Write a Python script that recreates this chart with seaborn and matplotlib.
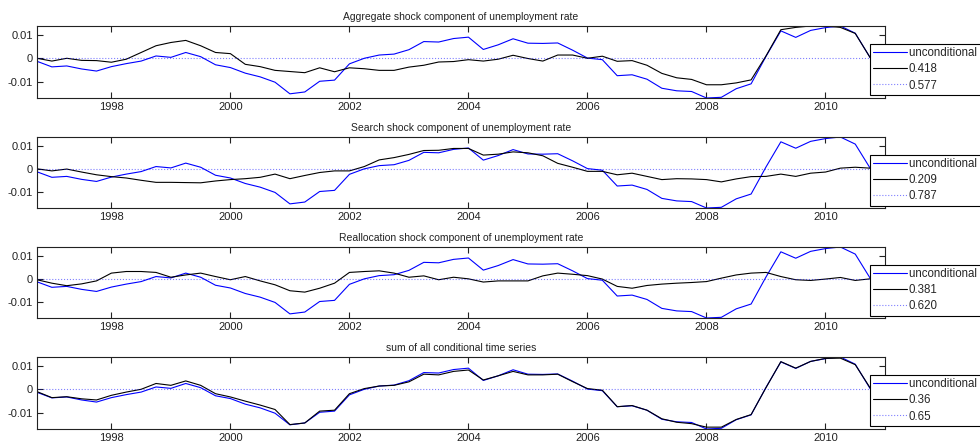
import numpy as np
import pandas as pd
import matplotlib
matplotlib.use("Agg")
import matplotlib.pyplot as plt
import seaborn as sns

# quarterly time axis, 1996Q4 .. 2010Q4
quarters = np.arange(1996.75, 2010.76, 0.25)

unconditional = [
    -0.0013, -0.0037, -0.0033, -0.0046, -0.0055, -0.0036, -0.0023, -0.0012,
    0.0010, 0.0004, 0.0025, 0.0007, -0.0028, -0.0040, -0.0064, -0.0080,
    -0.0103, -0.0153, -0.0145, -0.0099, -0.0094, -0.0024, 0.0000, 0.0014,
    0.0018, 0.0037, 0.0072, 0.0070, 0.0085, 0.0091, 0.0038, 0.0058,
    0.0084, 0.0065, 0.0064, 0.0066, 0.0035, 0.0001, -0.0006, -0.0075,
    -0.0071, -0.0090, -0.0129, -0.0140, -0.0143, -0.0171, -0.0168, -0.0131,
    -0.0110, 0.0008, 0.0118, 0.0090, 0.0120, 0.0132, 0.0139, 0.0108,
    0.0003,
]

aggregate = [
    0.0000, -0.0012, 0.0000, -0.0009, -0.0010, -0.0017, -0.0004, 0.0025,
    0.0054, 0.0068, 0.0077, 0.0054, 0.0025, 0.0020, -0.0026, -0.0036,
    -0.0052, -0.0057, -0.0062, -0.0041, -0.0058, -0.0041, -0.0045, -0.0052,
    -0.0052, -0.0038, -0.0030, -0.0016, -0.0014, -0.0006, -0.0012, -0.0004,
    0.0013, -0.0001, -0.0012, 0.0014, 0.0014, 0.0000, 0.0009, -0.0013,
    -0.0010, -0.0030, -0.0065, -0.0084, -0.0091, -0.0114, -0.0114, -0.0106,
    -0.0093, 0.0010, 0.0123, 0.0133, 0.0139, 0.0139, 0.0133, 0.0107,
    0.0003,
]

search = [
    0.0000, -0.0009, -0.0001, -0.0014, -0.0026, -0.0034, -0.0040, -0.0050,
    -0.0059, -0.0059, -0.0060, -0.0061, -0.0053, -0.0047, -0.0043, -0.0037,
    -0.0023, -0.0043, -0.0029, -0.0016, -0.0009, -0.0009, 0.0010, 0.0039,
    0.0049, 0.0063, 0.0080, 0.0081, 0.0089, 0.0089, 0.0060, 0.0064,
    0.0074, 0.0070, 0.0057, 0.0024, 0.0007, -0.0011, -0.0011, -0.0026,
    -0.0019, -0.0033, -0.0047, -0.0043, -0.0044, -0.0047, -0.0057, -0.0044,
    -0.0034, -0.0033, -0.0023, -0.0033, -0.0019, -0.0014, 0.0003, 0.0007,
    0.0003,
]

reallocation = [
    -0.0004, -0.0019, -0.0030, -0.0022, -0.0009, 0.0025, 0.0032, 0.0032,
    0.0028, 0.0007, 0.0017, 0.0025, 0.0010, -0.0004, 0.0010, -0.0009,
    -0.0026, -0.0052, -0.0058, -0.0041, -0.0019, 0.0028, 0.0032, 0.0035,
    0.0025, 0.0007, 0.0013, -0.0004, 0.0007, 0.0000, -0.0014, -0.0009,
    -0.0009, -0.0009, 0.0013, 0.0025, 0.0020, 0.0014, -0.0001, -0.0033,
    -0.0041, -0.0029, -0.0023, -0.0019, -0.0016, -0.0012, 0.0003, 0.0017,
    0.0025, 0.0028, 0.0010, -0.0004, -0.0007, -0.0001, 0.0006, -0.0007,
    0.0000,
]

sum_all = [
    -0.0010, -0.0036, -0.0032, -0.0041, -0.0046, -0.0026, -0.0012, 0.0000,
    0.0025, 0.0017, 0.0036, 0.0017, -0.0019, -0.0033, -0.0051, -0.0068,
    -0.0087, -0.0152, -0.0145, -0.0094, -0.0090, -0.0019, 0.0003, 0.0014,
    0.0017, 0.0032, 0.0065, 0.0062, 0.0077, 0.0083, 0.0040, 0.0058,
    0.0077, 0.0062, 0.0062, 0.0065, 0.0033, 0.0003, -0.0004, -0.0075,
    -0.0070, -0.0090, -0.0127, -0.0142, -0.0148, -0.0163, -0.0163, -0.0130,
    -0.0109, 0.0007, 0.0119, 0.0091, 0.0120, 0.0133, 0.0134, 0.0106,
    0.0006,
]

titles = [
    "Aggregate shock component of unemployment rate",
    "Search shock component of unemployment rate",
    "Reallocation shock component of unemployment rate",
    "sum of all conditional time series",
]
components = [aggregate, search, reallocation, sum_all]
share_labels = [("0.418", "0.577"), ("0.209", "0.787"), ("0.381", "0.620"), ("0.36", "0.65")]
base_label = "unconditional unemployment"
xtick_years = [1998, 2000, 2002, 2004, 2006, 2008, 2010]
ytick_vals = [-0.01, 0, 0.01]
ytick_labels = ["-0.01", "0", "0.01"]

sns.set_theme(style="ticks")
plt.rcParams['font.family'] = ['Liberation Sans', 'DejaVu Sans']
plt.rcParams.update({
    'xtick.direction': 'in', 'ytick.direction': 'in',
    'xtick.top': True, 'ytick.right': True,
    'xtick.major.size': 4, 'ytick.major.size': 4,
    'xtick.major.width': 0.8, 'ytick.major.width': 0.8,
    'axes.linewidth': 0.8, 'axes.edgecolor': '#222222',
    'xtick.color': '#222222', 'ytick.color': '#222222',
    'xtick.labelsize': 8, 'ytick.labelsize': 8,
    'xtick.major.pad': 3, 'ytick.major.pad': 3,
})

fig = plt.figure(figsize=(9.8, 4.45), dpi=100)
W, H = 980.0, 445.0
panel_px = [(26, 98), (137, 208), (247, 318), (357, 429)]
left_px, right_px = 37, 885

for i, (top, bot) in enumerate(panel_px):
    ax = fig.add_axes([left_px / W, 1 - bot / H, (right_px - left_px) / W, (bot - top) / H])
    df = pd.DataFrame({"t": quarters, "u": unconditional, "c": components[i]})
    sns.lineplot(data=df, x="t", y="u", color="blue", lw=0.8, ax=ax, label=base_label)
    sns.lineplot(data=df, x="t", y="c", color="black", lw=0.8, ax=ax, label=share_labels[i][0])
    ax.axhline(0, color="blue", ls=":", lw=0.8, alpha=0.5, label=share_labels[i][1])
    ax.set_xlim(1996.75, 2011.0)
    ax.set_ylim(-0.0171, 0.0139)
    ax.set_xticks(xtick_years)
    ax.set_xticklabels([str(y) for y in xtick_years])
    ax.set_yticks(ytick_vals)
    ax.set_yticklabels(ytick_labels)
    ax.set_xlabel("")
    ax.set_ylabel("")
    ax.set_title(titles[i], fontsize=7.5, pad=4, color="#222222")
    leg = ax.legend(loc="upper left", bbox_to_anchor=(0.982, 0.75), frameon=True,
                    fancybox=False, edgecolor="black", framealpha=1,
                    handlelength=2.9, handletextpad=0.2, borderpad=0.3,
                    labelspacing=0.35, fontsize=8.3, borderaxespad=0)
    leg.get_frame().set_linewidth(0.8)

fig.savefig("out.png", dpi=100)
